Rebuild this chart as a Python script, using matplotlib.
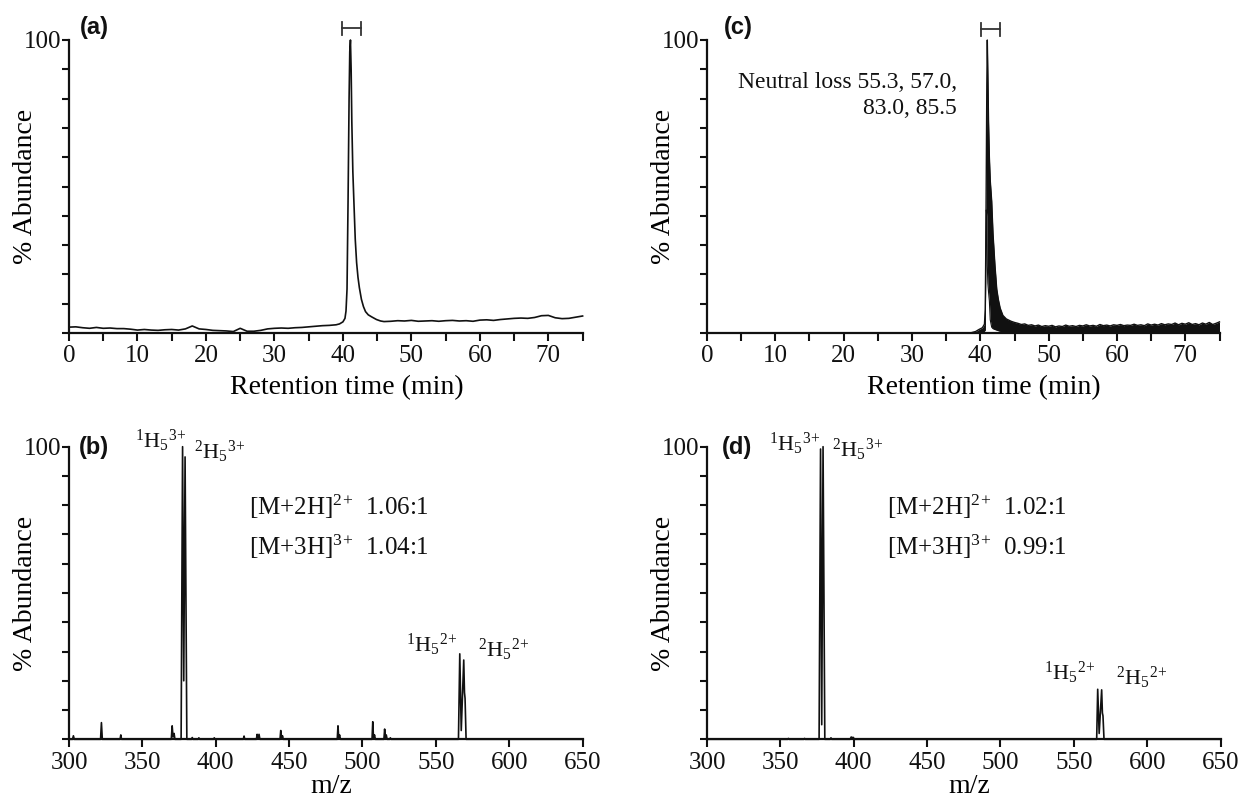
import numpy as np
import matplotlib
matplotlib.use("Agg")
import matplotlib.pyplot as plt

plt.rcParams['font.family'] = ['Liberation Serif', 'DejaVu Serif']
plt.rcParams['mathtext.fontset'] = 'custom'
plt.rcParams['mathtext.rm'] = 'Liberation Serif'
plt.rcParams['mathtext.it'] = 'Liberation Serif:italic'
plt.rcParams['mathtext.bf'] = 'Liberation Serif:bold'

# ---------------- data ----------------
# (a) chromatogram
time_a = list(range(0, 40)) + [39.5, 40.0, 40.3, 40.45, 40.6, 40.75, 40.9, 41.0, 41.1, 41.2, 41.3,
                               41.45, 41.6, 41.8, 42.0, 42.2, 42.4, 42.7, 43.0, 43.3, 43.7, 44.2,
                               44.9, 45.5] + list(range(46, 76))
abund_a = [2.0, 2.1, 1.8, 1.6, 1.9, 1.6, 1.7, 1.5, 1.5, 1.3, 1.0, 1.2, 1.0, 0.9, 1.1, 1.2, 1.0, 1.4,
           2.4, 1.4, 1.2, 0.9, 0.8, 0.7, 0.5, 1.6, 0.6, 0.6, 0.9, 1.4, 1.6, 1.7, 1.6, 1.8, 1.9, 2.1,
           2.3, 2.5, 2.6, 2.8,
           3.1, 3.8, 5.0, 7.5, 15, 45, 80, 96, 100, 90, 72, 55, 45, 32, 24, 19, 15.5, 11.5, 9.0,
           7.3, 6.2, 5.5, 4.6, 4.1,
           3.9, 4.0, 4.2, 4.1, 4.3, 4.0, 4.1, 4.2, 4.0, 4.2, 4.3, 4.1, 4.2, 4.0, 4.4, 4.5, 4.3, 4.6,
           4.8, 5.0, 5.1, 5.0, 5.3, 5.9, 6.0, 5.2, 4.9, 5.0, 5.4, 5.8]

# (c) neutral-loss chromatogram: upper / lower envelope of the noisy trace
time_c = [0, 38.5, 39.3, 39.8, 40.3, 40.6, 40.72, 40.8, 40.87, 40.95, 41.02, 41.1, 41.2, 41.32,
          41.45, 41.66, 41.85, 42.14, 42.4, 42.63, 42.9, 43.3, 43.8, 44.5, 45.0] + \
         [45.5 + 0.5 * k for k in range(60)]
upper_c = [0, 0, 0.5, 1.2, 1.8, 3, 8, 30, 55, 85, 100, 88, 72, 60, 52, 45, 34, 23, 15, 11.5, 8.5,
           6, 4.8, 4.0, 3.6,
           3.3, 2.9, 3.1, 2.6, 2.8, 2.4, 2.7, 2.2, 2.5, 2.3,
           2.6, 2.1, 2.4, 2.2, 2.7, 2.3, 2.5, 2.2, 2.6, 2.4,
           2.8, 2.4, 2.6, 2.3, 2.9, 2.5, 2.7, 2.4, 2.8, 2.6,
           2.9, 2.5, 2.7, 2.6, 3.0, 2.6, 2.8, 2.5, 3.1, 2.7,
           3.0, 2.7, 3.2, 2.8, 3.1, 2.9, 3.4, 2.8, 3.3, 3.0,
           3.5, 2.9, 3.2, 2.8, 3.4, 3.0, 3.6, 2.9, 3.3, 3.8]
lower_c = [0, 0, 0, 0.2, 0.4, 0.6, 1, 22, 42, 40, 23, 17, 14, 11, 4.5, 2, 1.5, 1.2, 1.0, 0.8, 0.6,
           0.5, 0.4, 0.3, 0.3,
           0.2, 0.4, 0.1, 0.3, 0.2, 0.4, 0.1, 0.3, 0.2, 0.3,
           0.1, 0.3, 0.2, 0.4, 0.1, 0.3, 0.2, 0.3, 0.1, 0.4,
           0.2, 0.3, 0.1, 0.4, 0.2, 0.3, 0.2, 0.4, 0.1, 0.3,
           0.2, 0.4, 0.1, 0.3, 0.2, 0.4, 0.2, 0.3, 0.1, 0.4,
           0.2, 0.3, 0.2, 0.4, 0.1, 0.3, 0.2, 0.4, 0.2, 0.3,
           0.2, 0.4, 0.1, 0.3, 0.2, 0.4, 0.2, 0.3, 0.1, 0.4]

# (b) mass spectrum profile
mz_b = [300, 302.4, 303.0, 303.6, 321.5, 322.1, 322.7, 334.8, 335.3, 335.8, 369.7, 370.3, 370.9,
        371.6, 372.2, 376.4, 377.4, 378.2, 379.1, 380.3, 383.5, 384.0, 384.5, 388.0, 388.5, 389.0,
        398.5, 399.0, 399.5, 418.8, 419.3, 419.8, 427.7, 428.2, 428.8, 429.5, 430.1, 443.8, 444.3,
        444.9, 445.5, 446.0, 482.8, 483.3, 483.8, 484.4, 485.0, 506.5, 507.0, 507.5, 508.2, 508.8,
        514.6, 515.1, 515.6, 516.2, 516.8, 518.5, 519.0, 519.5, 565.4, 566.3, 567.3, 569.0, 569.5,
        569.9, 570.6, 650]
int_b = [0, 0, 1.2, 0, 0, 5.7, 0, 0, 1.5, 0, 0, 4.6, 0.8, 2.0, 0, 0, 100, 20, 96.5, 0, 0, 0.6, 0,
         0, 0.5, 0, 0, 0.5, 0, 0, 1.1, 0, 0, 1.7, 0.3, 1.7, 0, 0, 3.0, 0.5, 1.2, 0, 0, 4.6, 0.5,
         1.5, 0, 0, 6.0, 0.5, 1.5, 0, 0, 3.5, 0.4, 1.5, 0, 0, 0.5, 0, 0, 29.2, 3, 27.1, 16, 14, 0, 0]

# (d) mass spectrum profile
mz_d = [300, 355.0, 355.5, 356.0, 366.0, 366.5, 367.0, 376.4, 377.4, 378.2, 379.1, 380.3, 384.0,
        384.5, 385.0, 397.5, 398.3, 399.0, 399.5, 400.2, 401.0, 565.6, 566.3, 567.3, 569.0, 569.5,
        569.9, 570.6, 650]
int_d = [0, 0, 0.3, 0, 0, 0.3, 0, 0, 99.2, 5, 100, 0, 0, 0.5, 0, 0, 0.8, 0.3, 0.7, 0.3, 0, 0, 17.1,
         2, 16.9, 9, 8, 0, 0]

rt_ticks = [0, 10, 20, 30, 40, 50, 60, 70]
mz_ticks = [300, 350, 400, 450, 500, 550, 600, 650]
ratio_b = ["1.06:1", "1.04:1"]
ratio_d = ["1.02:1", "0.99:1"]

# ---------------- figure ----------------
W, H = 1247, 801
fig = plt.figure(figsize=(W / 100, H / 100), dpi=100)


def px_axes(x0, x1, ytop, ybot):
    return fig.add_axes([x0 / W, 1 - ybot / H, (x1 - x0) / W, (ybot - ytop) / H])


ax_a = px_axes(69, 582.6, 40, 333)
ax_b = px_axes(69, 582.6, 446.7, 739.3)
ax_c = px_axes(707, 1219.5, 40, 333)
ax_d = px_axes(707, 1220.5, 446.7, 739.3)

INK = '#111111'


def style(ax):
    for s in ['top', 'right']:
        ax.spines[s].set_visible(False)
    for s in ['left', 'bottom']:
        ax.spines[s].set_linewidth(1.6)
        ax.spines[s].set_color(INK)
    ax.set_ylim(0, 100)
    ax.set_yticks(range(0, 101, 10))
    ax.set_yticklabels([''] * 10 + ['100'])
    ax.tick_params(axis='y', which='both', direction='out', length=5, width=1.5, pad=0.5,
                   labelsize=18, colors=INK)
    ax.tick_params(axis='x', which='both', direction='out', length=6, width=1.5, pad=3,
                   labelsize=18, colors=INK)
    ax.set_ylabel('% Abundance', fontsize=20, va='center')
    ax.yaxis.set_label_coords(-0.084, 0.5)


for ax in (ax_a, ax_c):
    style(ax)
    ax.set_xlim(0, 75)
    ax.set_xticks(rt_ticks)
    ax.set_xticks([5, 15, 25, 35, 45, 55, 65, 75], minor=True)
    ax.set_xlabel('Retention time (min)', fontsize=20)
    ax.xaxis.set_label_coords(0.54, -0.145)

for ax in (ax_b, ax_d):
    style(ax)
    ax.set_xlim(300, 650)
    ax.set_xticks(mz_ticks)
    ax.set_xlabel('m/z', fontsize=20)
    ax.xaxis.set_label_coords(0.51, -0.118)

# traces
ax_a.plot(time_a, abund_a, color=INK, lw=1.2, clip_on=False)
ax_c.fill_between(time_c, lower_c, upper_c, color=INK, lw=0, clip_on=False)
ax_c.plot(time_c, upper_c, color=INK, lw=1.0, clip_on=False)
ax_c.plot(time_c, lower_c, color=INK, lw=0.8, clip_on=False)
ax_b.plot(mz_b, int_b, color=INK, lw=1.2, clip_on=False)
ax_d.plot(mz_d, int_d, color=INK, lw=1.2, clip_on=False)

# collection-window brackets
for ax, (t0, t1), yb in ((ax_a, (39.8, 42.6), 104), (ax_c, (40.1, 42.9), 103.6)):
    ax.plot([t0, t1], [yb, yb], color='#333333', lw=1.3, clip_on=False)
    for t in (t0, t1):
        ax.plot([t, t], [yb - 2.2, yb + 2.2], color='#333333', lw=1.3, clip_on=False)

# panel letters
for ax, lab, xf, yf in ((ax_a, '(a)', 0.021, 1.041), (ax_b, '(b)', 0.02, 0.996),
                        (ax_c, '(c)', 0.033, 1.041), (ax_d, '(d)', 0.029, 0.996)):
    ax.text(xf, yf, lab, transform=ax.transAxes, ha='left', va='center', fontsize=17,
            fontweight='bold', family='Liberation Sans', color=INK)

# neutral loss text
ax_c.text(36.6, 81, 'Neutral loss 55.3, 57.0,\n83.0, 85.5', ha='right', va='center',
          multialignment='right', fontsize=17, linespacing=1.3, color=INK)

# spectrum annotations
lab13 = r'$^{1}$H$_{5}$$^{3}$$^{+}$'
lab23 = r'$^{2}$H$_{5}$$^{3}$$^{+}$'
lab12 = r'$^{1}$H$_{5}$$^{2}$$^{+}$'
lab22 = r'$^{2}$H$_{5}$$^{2}$$^{+}$'

for ax, ratios, y13, y23, y12, y22, r13 in (
        (ax_b, ratio_b, 99.5, 96.0, 29.8, 28.3, 380.0),
        (ax_d, ratio_d, 98.5, 96.5, 20.5, 18.6, 377.5)):
    ax.text(r13, y13, lab13, ha='right', va='baseline', fontsize=16, color=INK)
    ax.text(385.5, y23, lab23, ha='left', va='baseline', fontsize=16, color=INK)
    ax.text(565.0, y12, lab12, ha='right', va='baseline', fontsize=16, color=INK)
    ax.text(578.5, y22, lab22, ha='left', va='baseline', fontsize=16, color=INK)
    ax.text(422.7, 79.5, r'[M+2H]$^{2}$$^{+}$  ' + ratios[0], ha='left', va='center',
            fontsize=18, color=INK)
    ax.text(422.7, 65.8, r'[M+3H]$^{3}$$^{+}$  ' + ratios[1], ha='left', va='center',
            fontsize=18, color=INK)

fig.savefig('out.png', dpi=100)
